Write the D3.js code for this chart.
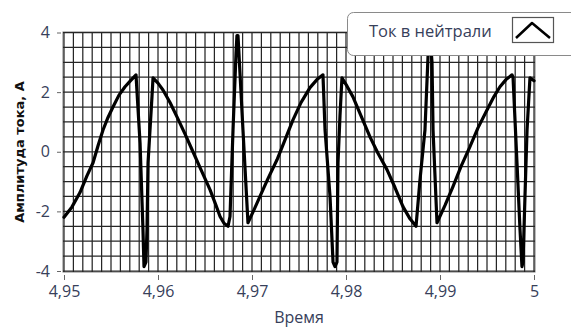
<!DOCTYPE html>
<html>
<head>
<meta charset="utf-8">
<script src="https://cdn.jsdelivr.net/npm/d3@7"></script>
<style>
  html, body { margin: 0; padding: 0; background: #fff; }
  svg { display: block; }
</style>
</head>
<body>
<svg id="chart" width="571" height="329"></svg>
<script>
// Neutral current waveform, time in seconds, current in amperes
const time = [
  4.95000, 4.95085, 4.95170, 4.95245, 4.95309, 4.95362, 4.95415, 4.95468, 4.95521, 4.95585,
  4.95649, 4.95713, 4.95766, 4.95809, 4.95840, 4.95851, 4.95872, 4.95883, 4.95894, 4.95936,
  4.95947, 4.96000, 4.96053, 4.96128, 4.96202, 4.96287, 4.96372, 4.96457, 4.96553, 4.96617,
  4.96660, 4.96702, 4.96745, 4.96766, 4.96798, 4.96830, 4.96840, 4.96851, 4.96872, 4.96904,
  4.96957, 4.97021, 4.97085, 4.97170, 4.97266, 4.97351, 4.97436, 4.97521, 4.97617, 4.97691,
  4.97755, 4.97777, 4.97830, 4.97862, 4.97883, 4.97904, 4.97915, 4.97936, 4.97957, 4.98011,
  4.98074, 4.98160, 4.98255, 4.98340, 4.98436, 4.98521, 4.98606, 4.98681, 4.98745, 4.98787,
  4.98840, 4.98872, 4.98883, 4.98894, 4.98915, 4.98926, 4.98968, 4.99053, 4.99138, 4.99223,
  4.99319, 4.99404, 4.99500, 4.99574, 4.99638, 4.99702, 4.99766, 4.99777, 4.99819, 4.99851,
  4.99872, 4.99883, 4.99904, 4.99926, 4.99957, 5.00000
];
const current = [
  -2.20, -1.85, -1.37, -0.80, -0.37, 0.20, 0.73, 1.15, 1.50, 1.90,
  2.18, 2.40, 2.58, 0.30, -2.60, -3.85, -3.70, -2.60, -0.37, 1.85,
  2.48, 2.30, 2.07, 1.65, 1.17, 0.60, 0.00, -0.60, -1.27, -1.80,
  -2.17, -2.40, -2.50, -2.17, 0.73, 3.30, 3.90, 3.90, 2.65, 0.73,
  -2.38, -1.95, -1.50, -0.90, -0.27, 0.40, 1.07, 1.65, 2.15, 2.42,
  2.58, 0.73, -1.50, -3.70, -3.85, -3.70, -0.37, 1.20, 2.48, 2.20,
  1.84, 1.20, 0.50, -0.05, -0.60, -1.20, -1.84, -2.25, -2.50, -0.94,
  0.73, 3.15, 3.90, 3.90, 3.00, 0.73, -2.38, -1.80, -1.17, -0.50,
  0.17, 0.80, 1.40, 1.85, 2.18, 2.42, 2.58, 2.50, -0.37, -2.60,
  -3.85, -3.70, -1.50, 0.73, 2.48, 2.38
];

const xTicks = [4.95, 4.96, 4.97, 4.98, 4.99, 5.0];
const xTickLabels = ["4,95", "4,96", "4,97", "4,98", "4,99", "5"];
const yTicks = [-4, -2, 0, 2, 4];
const yTickLabels = ["-4", "-2", "0", "2", "4"];

const seriesName = "Ток в нейтрали";
const xTitle = "Время";
const yTitle = "Амплитуда тока, А";

const svg = d3.select("#chart");
const labelFont = "'Open Sans', 'Noto Sans', sans-serif";
const labelColor = "#37405a";

const x = d3.scaleLinear().domain([4.95, 5.0]).range([64, 534]);
const y = d3.scaleLinear().domain([-4, 4]).range([271, 32.5]);

// plot background and frame
svg.append("rect")
  .attr("x", 63).attr("y", 32)
  .attr("width", 472).attr("height", 240)
  .attr("fill", "#fff")
  .attr("stroke", "#7a7a7a")
  .attr("stroke-width", 1);

// dense grid: every 0.001 s and every 0.5 A
const vGrid = d3.range(0, 51).map(i => 4.95 + i * 0.001);
const hGrid = d3.range(0, 17).map(i => -4 + i * 0.5);
const grid = svg.append("g").attr("stroke", "#262626").attr("stroke-width", 1.25);
grid.selectAll("line.v").data(vGrid).join("line")
  .attr("x1", d => x(d)).attr("x2", d => x(d))
  .attr("y1", 32).attr("y2", 272);
grid.selectAll("line.h").data(hGrid).join("line")
  .attr("x1", 63).attr("x2", 535)
  .attr("y1", d => y(d)).attr("y2", d => y(d));

// axes
const xAxis = d3.axisBottom(x).tickValues(xTicks)
  .tickFormat((d, i) => xTickLabels[i]).tickSize(5).tickPadding(6);
const gx = svg.append("g").attr("transform", "translate(0,275)").call(xAxis);
gx.select(".domain").remove();
gx.selectAll(".tick line").attr("stroke", "#666");
gx.selectAll(".tick text")
  .attr("font-family", labelFont).attr("font-size", 16).attr("fill", labelColor);

const yAxis = d3.axisLeft(y).tickValues(yTicks)
  .tickFormat((d, i) => yTickLabels[i]).tickSize(4).tickPadding(7);
const gy = svg.append("g").attr("transform", "translate(61,0)").call(yAxis);
gy.select(".domain").remove();
gy.selectAll(".tick line").attr("stroke", "#666");
gy.selectAll(".tick text")
  .attr("font-family", labelFont).attr("font-size", 16).attr("fill", labelColor);

// waveform
const pts = time.map((t, i) => [t, current[i]]);
const line = d3.line().x(d => x(d[0])).y(d => y(d[1]));
svg.append("path")
  .datum(pts)
  .attr("d", line)
  .attr("fill", "none")
  .attr("stroke", "#000")
  .attr("stroke-width", 3.2)
  .attr("stroke-linejoin", "round")
  .attr("stroke-linecap", "round");

// axis titles
svg.append("text")
  .attr("x", 299).attr("y", 323)
  .attr("text-anchor", "middle")
  .attr("font-family", labelFont).attr("font-size", 16)
  .attr("fill", labelColor)
  .text(xTitle);

svg.append("text")
  .attr("transform", "translate(24,152) rotate(-90)")
  .attr("text-anchor", "middle")
  .attr("font-family", "'DejaVu Sans', Verdana, sans-serif")
  .attr("font-weight", "bold").attr("font-size", 13)
  .attr("fill", "#111")
  .text(yTitle);

// legend
const lg = svg.append("g");
lg.append("rect")
  .attr("x", 347.5).attr("y", 12.5)
  .attr("width", 240).attr("height", 43)
  .attr("rx", 6).attr("ry", 6)
  .attr("fill", "#fff")
  .attr("stroke", "#8a8a8a");
lg.append("text")
  .attr("x", 369).attr("y", 37)
  .attr("font-family", labelFont).attr("font-size", 16.5)
  .attr("fill", labelColor)
  .text(seriesName);
lg.append("rect")
  .attr("x", 512.5).attr("y", 17.5)
  .attr("width", 41).attr("height", 25)
  .attr("fill", "#fff")
  .attr("stroke", "#555").attr("stroke-width", 1.2);
lg.append("path")
  .attr("d", "M516,38 L532,23 L550,38")
  .attr("fill", "none")
  .attr("stroke", "#000").attr("stroke-width", 2.5)
  .attr("stroke-linejoin", "round");
</script>
</body>
</html>
